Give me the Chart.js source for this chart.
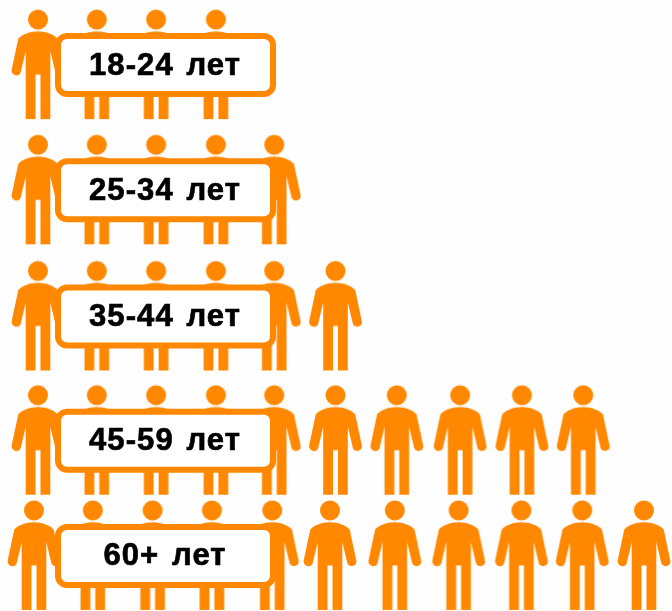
<!DOCTYPE html>
<html>
<head>
<meta charset="utf-8">
<style>
html, body { margin: 0; padding: 0; background: #fefefe; }
canvas { display: block; }
</style>
<script src="https://cdn.jsdelivr.net/npm/chart.js@4"></script>
</head>
<body>
<canvas id="people" width="672" height="611"></canvas>
<script>
/* ---------------- Data ---------------- */

const ageGroups = ["18-24 лет", "25-34 лет", "35-44 лет", "45-59 лет", "60+ лет"];
const peopleCounts = [4, 5, 6, 10, 11];

/* ---------------- Layout tweaks (px) ---------------- */

const rowShift = [2.5, 5.5, 9.5, 11.5, 4.5];
const seatShiftTop = [2, 0, -1.5, -2.5, -5, -4.5, -4, -1.5, -0.5, 0];
const seatShiftLast = [-2, -4, -5, -6.5, -7, -10, -6, -3, -1, -1, 0];

const ORANGE = "#ff8800";

/* ---------------- Person icon ---------------- */

const iconCache = {};

function personIcon(dx, dy) {
    const key = dx + "_" + dy;
    if (iconCache[key]) return iconCache[key];

    const c = document.createElement("canvas");
    c.width = 100;
    c.height = 160;
    const g = c.getContext("2d");
    g.translate(50 + dx, 80 - 54 + dy);
    g.fillStyle = ORANGE;

    g.beginPath();
    g.arc(0, 10, 10, 0, Math.PI * 2);
    g.fill();

    g.beginPath();
    g.moveTo(-12.3, 109.5);
    g.lineTo(-2.5, 109.5);
    g.lineTo(-2.5, 65);
    g.lineTo(2.5, 65);
    g.lineTo(2.5, 109.5);
    g.lineTo(12.3, 109.5);
    g.lineTo(12.3, 41.5);
    g.lineTo(17.2, 62);
    g.arc(21.7, 61, 4.7, Math.PI * 0.92, Math.PI * 1.92 + 0.1, true);
    g.lineTo(19.7, 29);
    g.bezierCurveTo(16, 24.5, 7, 21.7, 0, 21.7);
    g.bezierCurveTo(-7, 21.7, -16, 24.5, -19.7, 29);
    g.lineTo(-26.3, 60);
    g.arc(-21.7, 61, 4.7, Math.PI * 1.08 - 0.1, Math.PI * 0.08, true);
    g.lineTo(-12.3, 41.5);
    g.closePath();
    g.fill();

    iconCache[key] = c;
    return c;
}

/* ---------------- Sign boards ---------------- */

const signBoards = {
    id: "signBoards",
    afterDatasetsDraw(chart) {
        const { ctx, scales } = chart;
        ageGroups.forEach((label, i) => {
            const cy = scales.y.getPixelForValue(label) + rowShift[i] + 1.5;
            ctx.save();
            ctx.beginPath();
            ctx.roundRect(58, cy - 29, 215, 58, 9);
            ctx.fillStyle = "#ffffff";
            ctx.fill();
            ctx.lineWidth = 6;
            ctx.strokeStyle = ORANGE;
            ctx.stroke();

            ctx.fillStyle = "#000000";
            ctx.strokeStyle = "#000000";
            ctx.lineWidth = 0.7;
            ctx.font = "bold 31px 'Liberation Sans', Arial, sans-serif";
            ctx.letterSpacing = "1.1px";
            ctx.wordSpacing = "3px";
            ctx.textAlign = "center";
            ctx.textBaseline = "middle";
            ctx.fillText(label, 165, cy + 1);
            ctx.strokeText(label, 165, cy + 1);
            ctx.restore();
        });
    }
};

/* ---------------- Chart ---------------- */

const datasets = ageGroups.map((label, row) => ({
    label,
    data: Array.from({ length: peopleCounts[row] }, (_, seat) => ({ x: seat, y: label })),
    pointRadius: 30,
    pointStyle: ctx => {
        const shifts = row === 4 ? seatShiftLast : seatShiftTop;
        return personIcon(shifts[ctx.dataIndex] || 0, rowShift[row]);
    }
}));

new Chart(document.getElementById("people"), {
    type: "scatter",
    data: { labels: ageGroups, datasets },
    options: {
        responsive: false,
        animation: false,
        layout: { padding: 0, autoPadding: false },
        plugins: { legend: { display: false }, tooltip: { enabled: false } },
        scales: {
            x: { type: "linear", display: false, min: -36 / 60.8, max: 636 / 60.8 },
            y: { type: "category", labels: ageGroups, offset: true, display: false }
        }
    },
    plugins: [signBoards]
});
</script>
</body>
</html>
